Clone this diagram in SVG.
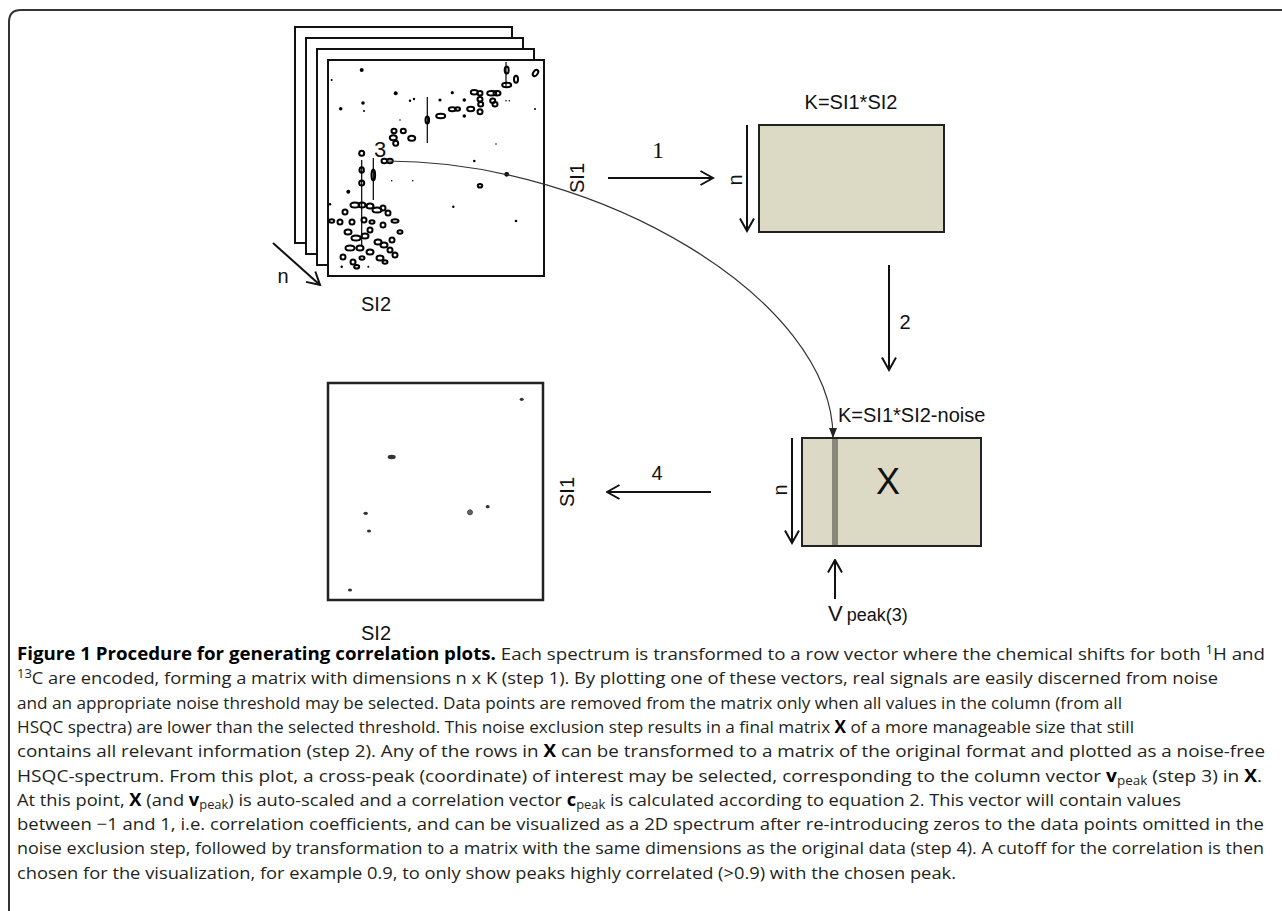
<svg xmlns="http://www.w3.org/2000/svg" width="1282" height="911" viewBox="0 0 1282 911">
<style>
.lbl{font-family:"Liberation Sans",Arial,sans-serif;font-size:20px;fill:#111}
.ser{font-family:"Liberation Serif","Times New Roman",serif;font-size:24px;fill:#111}
.frame{fill:#fff;stroke:#111;stroke-width:2}
.mat{fill:#dcdac4;stroke:#222;stroke-width:2}
.arr{fill:none;stroke:#111;stroke-width:2}
.pk{fill:none;stroke:#000;stroke-width:2}
.pd{fill:#000}
.st{stroke:#000;stroke-width:1.2}
.cap{font-family:"Open Sans","Noto Sans",sans-serif;font-size:17px;fill:#231f20}
.b{font-weight:bold;fill:#000}
.sub{font-size:12px}
</style>
<defs>
<marker id="open" markerUnits="userSpaceOnUse" viewBox="0 0 15 16" refX="13.5" refY="8" markerWidth="15" markerHeight="16" orient="auto">
<path d="M1,1 L13.5,8 L1,15" fill="none" stroke="#111" stroke-width="2"/>
</marker>
<marker id="tri" markerUnits="userSpaceOnUse" viewBox="0 0 10 8" refX="9" refY="4" markerWidth="10" markerHeight="8" orient="auto">
<path d="M0,0 L10,4 L0,8 Z" fill="#222"/>
</marker>
</defs>
<rect width="1282" height="911" fill="#fff"/>
<path d="M9,911 V22 Q9,10 21,10 H1282" fill="none" stroke="#333" stroke-width="2"/>

<g id="spectra-stack">
<rect class="frame" x="295" y="27" width="217" height="216"/>
<rect class="frame" x="306" y="38" width="217" height="216"/>
<rect class="frame" x="317" y="49" width="217" height="216"/>
<rect class="frame" x="328" y="60" width="216" height="216"/>
<g id="peaks">
<circle class="pd" cx="361.7" cy="70" r="2"/><circle class="pd" cx="331.7" cy="80" r="1"/><circle class="pd" cx="395.7" cy="93.3" r="2"/>
<circle class="pd" cx="440" cy="100" r="1.6"/><circle class="pd" cx="452.3" cy="92.7" r="1.6"/><circle class="pd" cx="340.7" cy="108.7" r="1.8"/>
<circle class="pd" cx="363" cy="103" r="1.8"/><circle class="pd" cx="364" cy="111" r="1"/><circle class="pd" cx="410" cy="100.7" r="1.2"/><circle class="pd" cx="414" cy="99" r="1.2"/>
<circle class="pd" cx="464.3" cy="100" r="1.8"/><circle class="pd" cx="464.3" cy="116" r="1.8"/><circle class="pd" cx="453.3" cy="206.7" r="1.2"/>
<circle class="pd" cx="496" cy="144" r="0.8"/><circle class="pd" cx="474.3" cy="161" r="1.3"/><circle class="pd" cx="506.7" cy="174.3" r="2.4"/>
<circle class="pd" cx="516" cy="221" r="1.3"/><circle class="pd" cx="348.3" cy="191.7" r="2"/><circle class="pd" cx="330" cy="204.3" r="1.3"/>
<circle class="pd" cx="400" cy="120" r="0.8"/><circle class="pd" cx="391.7" cy="180.7" r="0.8"/><circle class="pd" cx="412.7" cy="180.7" r="0.8"/>
<circle class="pd" cx="341.7" cy="266.7" r="1.2"/><circle class="pd" cx="368.3" cy="266.7" r="1"/><circle class="pd" cx="535" cy="109" r="1"/>
<ellipse class="pk" cx="331.7" cy="221" rx="2.5" ry="1.8"/>
<line class="st" x1="427.3" y1="97" x2="427.3" y2="143"/>
<ellipse class="pk" cx="427.3" cy="120" rx="1.8" ry="3.5"/>
<ellipse class="pk" cx="440.7" cy="116" rx="4.5" ry="2.2"/>
<ellipse class="pk" cx="452.3" cy="109.3" rx="3.5" ry="2"/><ellipse class="pk" cx="457.5" cy="109" rx="2.5" ry="1.8"/>
<ellipse class="pk" cx="470.7" cy="109" rx="3.5" ry="2.2"/>
<ellipse class="pk" cx="474.3" cy="92.3" rx="3.5" ry="2.2"/><ellipse class="pk" cx="480" cy="93.3" rx="2.5" ry="2.2"/>
<ellipse class="pk" cx="491.7" cy="93.3" rx="4.5" ry="2.2"/><ellipse class="pk" cx="497" cy="93.3" rx="3.5" ry="2.2"/>
<ellipse class="pk" cx="480" cy="99.3" rx="2.5" ry="2.2"/><ellipse class="pk" cx="480.7" cy="104.3" rx="2.5" ry="2.2"/>
<ellipse class="pk" cx="492.7" cy="100.7" rx="2.5" ry="2.2"/><ellipse class="pk" cx="495" cy="104.3" rx="2.5" ry="2.2"/>
<ellipse class="pk" cx="480" cy="111.7" rx="2.5" ry="2.5"/>
<line class="st" x1="506" y1="62" x2="506" y2="88"/>
<ellipse class="pk" cx="506.7" cy="70" rx="2" ry="3.5"/><ellipse class="pk" cx="506.7" cy="85" rx="4.5" ry="2.2"/>
<ellipse class="pk" cx="516" cy="79.3" rx="2" ry="3.5"/>
<ellipse class="pk" cx="535.5" cy="73" rx="2.2" ry="3.5" transform="rotate(35 535.5 73)"/>
<circle class="pd" cx="506" cy="100.7" r="0.8"/><circle class="pd" cx="509.3" cy="100.7" r="0.8"/>
<ellipse class="pk" cx="394" cy="131" rx="2.5" ry="2.2"/><ellipse class="pk" cx="403.3" cy="131" rx="2.5" ry="2.2"/>
<ellipse class="pk" cx="393.3" cy="137.7" rx="3.5" ry="2.5"/><ellipse class="pk" cx="395.7" cy="143.3" rx="2.5" ry="2.5"/>
<ellipse class="pk" cx="411.7" cy="138.3" rx="3.5" ry="2.5"/>
<ellipse class="pk" cx="361.7" cy="153.3" rx="2.5" ry="2.5"/>
<ellipse class="pk" cx="384.3" cy="161" rx="2.8" ry="2.2"/><ellipse class="pk" cx="390" cy="161" rx="2.8" ry="2.2"/>
<line class="st" x1="373.3" y1="158" x2="373.3" y2="200"/>
<ellipse class="pk" cx="373.3" cy="175" rx="1.8" ry="5.5"/>
<line class="st" x1="361.7" y1="160" x2="361.7" y2="245"/>
<ellipse class="pk" cx="361.7" cy="170" rx="2.2" ry="2.8"/><ellipse class="pk" cx="361.7" cy="183" rx="2.5" ry="2.5"/>
<ellipse class="pk" cx="480" cy="185.7" rx="2.2" ry="1.8"/>
<ellipse class="pk" cx="355" cy="205" rx="4.5" ry="2.5"/><ellipse class="pk" cx="362" cy="205" rx="3.5" ry="2.5"/><ellipse class="pk" cx="370" cy="206" rx="3.5" ry="2.5"/>
<ellipse class="pk" cx="377" cy="210" rx="4.5" ry="2.5"/><ellipse class="pk" cx="383" cy="208" rx="2.5" ry="2.5"/><ellipse class="pk" cx="388" cy="213" rx="2.5" ry="2.5"/>
<ellipse class="pk" cx="345" cy="212" rx="2.5" ry="2.5"/><ellipse class="pk" cx="340" cy="222" rx="2.5" ry="2.5"/><ellipse class="pk" cx="352" cy="222" rx="2.5" ry="2.5"/>
<ellipse class="pk" cx="348" cy="232" rx="3.5" ry="2.5"/><ellipse class="pk" cx="356" cy="238" rx="4.5" ry="2.5"/><ellipse class="pk" cx="365" cy="236" rx="3.5" ry="2.5"/>
<ellipse class="pk" cx="370" cy="230" rx="2.5" ry="2.5"/><ellipse class="pk" cx="378" cy="242" rx="3.5" ry="2.5"/><ellipse class="pk" cx="384" cy="245" rx="3.5" ry="2.5"/>
<ellipse class="pk" cx="392" cy="240" rx="2.5" ry="2.5"/><ellipse class="pk" cx="383" cy="225" rx="2.5" ry="2.5"/><ellipse class="pk" cx="364" cy="220" rx="2.5" ry="2.5"/>
<ellipse class="pk" cx="372" cy="222" rx="2.5" ry="1.8"/><ellipse class="pk" cx="350" cy="248" rx="4.5" ry="2.5"/><ellipse class="pk" cx="360" cy="248" rx="3.5" ry="2.5"/>
<ellipse class="pk" cx="370" cy="252" rx="3.5" ry="2.5"/><ellipse class="pk" cx="380" cy="258" rx="3.5" ry="2.5"/><ellipse class="pk" cx="390" cy="250" rx="2.5" ry="2.5"/>
<ellipse class="pk" cx="343" cy="257" rx="2.5" ry="2.5"/><ellipse class="pk" cx="353" cy="262" rx="2.5" ry="2.5"/><ellipse class="pk" cx="362" cy="258" rx="2.5" ry="1.8"/>
<ellipse class="pk" cx="395" cy="255" rx="2.5" ry="2.5"/><ellipse class="pk" cx="385" cy="262" rx="2.5" ry="1.8"/><ellipse class="pk" cx="400" cy="232" rx="2.5" ry="1.8"/>
<ellipse class="pk" cx="395" cy="221" rx="3.5" ry="1.8"/><ellipse class="pk" cx="356.7" cy="266.7" rx="2.5" ry="1.8"/>
</g>
<text class="lbl" x="380" y="157" text-anchor="middle" style="font-size:22px">3</text>
<text class="lbl" x="283" y="283" text-anchor="middle">n</text>
<text class="lbl" x="376" y="311" text-anchor="middle">SI2</text>
<text class="lbl" transform="translate(584,178) rotate(-90)" text-anchor="middle">SI1</text>
</g>

<g id="matrix-K">
<text class="lbl" x="851" y="109" text-anchor="middle">K=SI1*SI2</text>
<rect class="mat" x="759" y="125" width="185" height="107"/>
<text class="lbl" transform="translate(742,180) rotate(-90)" text-anchor="middle">n</text>
</g>

<g id="matrix-X">
<text class="lbl" x="838" y="422">K=SI1*SI2-noise</text>
<rect class="mat" x="802" y="438" width="179" height="108"/>
<rect x="832" y="439" width="6" height="106" fill="#8a887a"/>
<text class="lbl" x="888" y="494" text-anchor="middle" style="font-size:36px">X</text>
<text class="lbl" transform="translate(787,490) rotate(-90)" text-anchor="middle">n</text>
<text class="lbl" x="828" y="621"><tspan style="font-size:22px">V</tspan><tspan style="font-size:18px" dx="4">peak(3)</tspan></text>
</g>

<g id="correlation-plot">
<rect x="328" y="383" width="215" height="217" fill="#fff" stroke="#222" stroke-width="2.5"/>
<g fill="#333">
<ellipse cx="521.7" cy="399.3" rx="2" ry="1.6"/>
<ellipse cx="391.7" cy="457" rx="4" ry="2.2"/>
<ellipse cx="365.7" cy="513.3" rx="2.2" ry="1.6"/>
<ellipse cx="369" cy="531" rx="2" ry="1.6"/>
<ellipse cx="470" cy="512.3" rx="2.5" ry="2.5" fill="#666" stroke="#333" stroke-width="0.8"/>
<ellipse cx="487.7" cy="506.7" rx="2" ry="1.6"/>
<ellipse cx="350" cy="590" rx="2" ry="1.6"/>
</g>
<text class="lbl" x="376" y="640" text-anchor="middle">SI2</text>
<text class="lbl" transform="translate(574,492) rotate(-90)" text-anchor="middle">SI1</text>
</g>

<g id="connectors">
<line class="arr" x1="608" y1="178" x2="713" y2="178" marker-end="url(#open)"/>
<line class="arr" x1="747" y1="125" x2="747" y2="231" marker-end="url(#open)"/>
<line class="arr" x1="889" y1="265" x2="889" y2="370" marker-end="url(#open)"/>
<line class="arr" x1="792" y1="438" x2="792" y2="543" marker-end="url(#open)"/>
<line class="arr" x1="711" y1="492" x2="607" y2="492" marker-end="url(#open)"/>
<line class="arr" x1="835" y1="599" x2="835" y2="560" stroke-width="2.5" marker-end="url(#open)"/>
<line class="arr" x1="273" y1="243" x2="320" y2="285" marker-end="url(#open)"/>
<path d="M387,161 C600,161 833,300 833,437" fill="none" stroke="#333" stroke-width="1.2" marker-end="url(#tri)"/>
<text class="ser" x="658" y="158" text-anchor="middle">1</text>
<text class="lbl" x="905" y="329" text-anchor="middle">2</text>
<text class="lbl" x="657" y="480" text-anchor="middle">4</text>
</g>

<g id="caption">
<text class="cap" x="17" y="660" textLength="1248" lengthAdjust="spacingAndGlyphs"><tspan class="b">Figure 1 Procedure for generating correlation plots.</tspan> Each spectrum is transformed to a row vector where the chemical shifts for both <tspan class="sub" baseline-shift="6">1</tspan>H and</text>
<text class="cap" x="17" y="684.3" textLength="1201" lengthAdjust="spacingAndGlyphs"><tspan class="sub" baseline-shift="6">13</tspan>C are encoded, forming a matrix with dimensions n x K (step 1). By plotting one of these vectors, real signals are easily discerned from noise</text>
<text class="cap" x="17" y="708.6" textLength="1105" lengthAdjust="spacingAndGlyphs">and an appropriate noise threshold may be selected. Data points are removed from the matrix only when all values in the column (from all</text>
<text class="cap" x="17" y="732.9" textLength="1117" lengthAdjust="spacingAndGlyphs">HSQC spectra) are lower than the selected threshold. This noise exclusion step results in a final matrix <tspan class="b">X</tspan> of a more manageable size that still</text>
<text class="cap" x="17" y="757.2" textLength="1248" lengthAdjust="spacingAndGlyphs">contains all relevant information (step 2). Any of the rows in <tspan class="b">X</tspan> can be transformed to a matrix of the original format and plotted as a noise-free</text>
<text class="cap" x="17" y="781.5" textLength="1245" lengthAdjust="spacingAndGlyphs">HSQC-spectrum. From this plot, a cross-peak (coordinate) of interest may be selected, corresponding to the column vector <tspan class="b">v</tspan><tspan class="sub" baseline-shift="-3">peak</tspan> (step 3) in <tspan class="b">X</tspan>.</text>
<text class="cap" x="17" y="805.8" textLength="1164" lengthAdjust="spacingAndGlyphs">At this point, <tspan class="b">X</tspan> (and <tspan class="b">v</tspan><tspan class="sub" baseline-shift="-3">peak</tspan>) is auto-scaled and a correlation vector <tspan class="b">c</tspan><tspan class="sub" baseline-shift="-3">peak</tspan> is calculated according to equation 2. This vector will contain values</text>
<text class="cap" x="17" y="830.1" textLength="1247" lengthAdjust="spacingAndGlyphs">between −1 and 1, i.e. correlation coefficients, and can be visualized as a 2D spectrum after re-introducing zeros to the data points omitted in the</text>
<text class="cap" x="17" y="854.4" textLength="1247" lengthAdjust="spacingAndGlyphs">noise exclusion step, followed by transformation to a matrix with the same dimensions as the original data (step 4). A cutoff for the correlation is then</text>
<text class="cap" x="17" y="878.7" textLength="939" lengthAdjust="spacingAndGlyphs">chosen for the visualization, for example 0.9, to only show peaks highly correlated (&gt;0.9) with the chosen peak.</text>
</g>
</svg>
